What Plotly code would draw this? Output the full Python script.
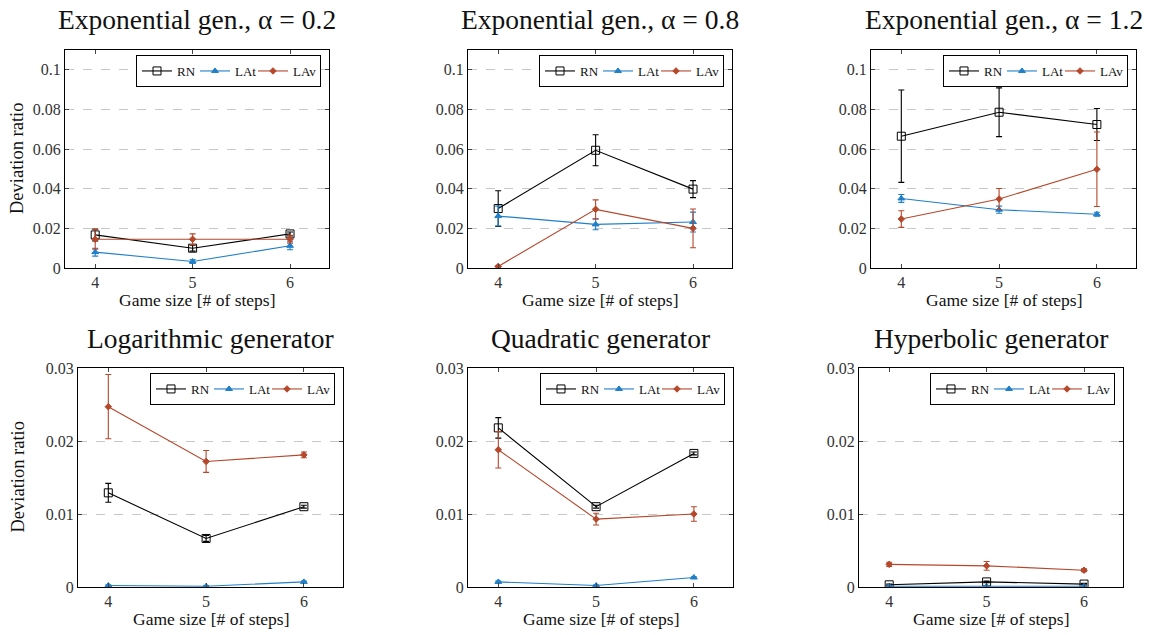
import plotly.graph_objects as go

# ---------------- data ----------------
game_sizes = [4, 5, 6]
series_names = ["RN", "LAt", "LAv"]

panel_titles = [
    "Exponential gen., α = 0.2",
    "Exponential gen., α = 0.8",
    "Exponential gen., α = 1.2",
    "Logarithmic generator",
    "Quadratic generator",
    "Hyperbolic generator",
]

# means
exp02_rn = [0.0167, 0.0100, 0.0172]
exp02_lat = [0.0080, 0.0033, 0.0112]
exp02_lav = [0.0145, 0.0145, 0.0145]
exp08_rn = [0.0300, 0.0594, 0.0398]
exp08_lat = [0.0262, 0.0220, 0.0232]
exp08_lav = [0.0008, 0.0296, 0.0200]
exp12_rn = [0.0665, 0.0786, 0.0724]
exp12_lat = [0.0351, 0.0294, 0.0271]
exp12_lav = [0.0247, 0.0348, 0.0498]
log_rn = [0.0129, 0.00665, 0.0110]
log_lat = [0.0002, 0.0001, 0.0007]
log_lav = [0.0247, 0.0172, 0.0181]
quad_rn = [0.0218, 0.0110, 0.0183]
quad_lat = [0.0007, 0.0002, 0.0013]
quad_lav = [0.0188, 0.0093, 0.0100]
hyp_rn = [0.0003, 0.0007, 0.0004]
hyp_lat = [0.0001, 0.0001, 0.0001]
hyp_lav = [0.0031, 0.0029, 0.0023]

# error bars (half-widths)
exp02_rn_err = [0.0030, 0.0015, 0.0010]
exp02_lat_err = [0.0020, 0.0010, 0.0020]
exp02_lav_err = [0.0050, 0.0027, 0.0020]
exp08_rn_err = [0.0090, 0.0078, 0.0043]
exp08_lat_err = [0.0050, 0.0027, 0.0050]
exp08_lav_err = [0.0003, 0.0048, 0.0098]
exp12_rn_err = [0.0233, 0.0123, 0.0081]
exp12_lat_err = [0.0020, 0.0018, 0.0010]
exp12_lav_err = [0.0042, 0.0053, 0.0188]
log_rn_err = [0.0013, 0.0004, 0.0002]
log_lat_err = [0.0001, 0.0001, 0.0001]
log_lav_err = [0.0044, 0.0015, 0.0004]
quad_rn_err = [0.0014, 0.0002, 0.0002]
quad_lat_err = [0.0001, 0.0001, 0.0001]
quad_lav_err = [0.0025, 0.0008, 0.0010]
hyp_rn_err = [0.0001, 0.0001, 0.0001]
hyp_lat_err = [0.00005, 0.00005, 0.00005]
hyp_lav_err = [0.0003, 0.0006, 0.0002]

top_yticks = [0, 0.02, 0.04, 0.06, 0.08, 0.1]
top_yticktext = ["0", "0.02", "0.04", "0.06", "0.08", "0.1"]
bot_yticks = [0, 0.01, 0.02, 0.03]
bot_yticktext = ["0", "0.01", "0.02", "0.03"]
x_title = "Game size [# of steps]"
y_title = "Deviation ratio"

panels = [
    ([exp02_rn, exp02_lat, exp02_lav], [exp02_rn_err, exp02_lat_err, exp02_lav_err]),
    ([exp08_rn, exp08_lat, exp08_lav], [exp08_rn_err, exp08_lat_err, exp08_lav_err]),
    ([exp12_rn, exp12_lat, exp12_lav], [exp12_rn_err, exp12_lat_err, exp12_lav_err]),
    ([log_rn, log_lat, log_lav], [log_rn_err, log_lat_err, log_lav_err]),
    ([quad_rn, quad_lat, quad_lav], [quad_rn_err, quad_lat_err, quad_lav_err]),
    ([hyp_rn, hyp_lat, hyp_lav], [hyp_rn_err, hyp_lat_err, hyp_lav_err]),
]

# ---------------- layout geometry (pixels) ----------------
W, H = 1149, 635
px_x = [(65, 329), (468, 732), (871, 1136), (78, 343), (468, 733), (859, 1123)]
px_y = [(50, 268)] * 3 + [(368, 587)] * 3

colors = ["#000000", "#1f7fc8", "#b5472b"]
symbols = ["square-open", "triangle-up", "diamond"]
msizes = [8, 6, 5]
legend_widths = [13, 13, 22]

SERIF = "Liberation Serif"

fig = go.Figure()
annotations = []

for i, (means, errs) in enumerate(panels):
    k = i + 1
    xa = "x" if k == 1 else f"x{k}"
    ya = "y" if k == 1 else f"y{k}"
    lg = "legend" if k == 1 else f"legend{k}"
    for s in range(3):
        fig.add_trace(go.Scatter(
            x=game_sizes, y=means[s], name=series_names[s],
            mode="lines+markers",
            xaxis=xa, yaxis=ya, legend=lg, legendwidth=legend_widths[s],
            line=dict(color=colors[s], width=1.1),
            marker=dict(symbol=symbols[s], size=msizes[s], color=colors[s],
                        line=dict(color=colors[s], width=1)),
            error_y=dict(type="data", array=errs[s], color=colors[s],
                         thickness=1.1, width=3),
        ))
    x0, x1 = px_x[i]
    y0, y1 = px_y[i]
    top = i < 3
    axis_common = dict(showline=True, linecolor="black", linewidth=1, mirror="ticks",
                       ticks="inside", ticklen=4, tickcolor="#444", zeroline=False,
                       automargin=False,
                       tickfont=dict(family=SERIF, size=16, color="#333"))
    fig.update_layout(**{
        ("xaxis" if k == 1 else f"xaxis{k}"): dict(
            domain=[x0 / W, x1 / W], anchor=ya,
            range=[3.69, 6.4], tickvals=game_sizes, showgrid=False, **axis_common),
        ("yaxis" if k == 1 else f"yaxis{k}"): dict(
            domain=[1 - y1 / H, 1 - y0 / H], anchor=xa,
            range=[0, 0.11] if top else [0, 0.03],
            tickvals=top_yticks if top else bot_yticks,
            ticktext=top_yticktext if top else bot_yticktext,
            showgrid=True, gridcolor="#c8c8c8", griddash="dash", gridwidth=1,
            **axis_common),
        lg: dict(orientation="h", xref="paper", yref="paper",
                 x=(x1 - 8) / W, y=1 - (y0 + 5) / H, xanchor="right", yanchor="top",
                 bordercolor="black", borderwidth=1, bgcolor="white",
                 font=dict(family=SERIF, size=13, color="#111"),
                 itemwidth=30, tracegroupgap=0),
    })
    cx = (x0 + x1) / 2 / W
    annotations.append(dict(text=panel_titles[i], x=cx, y=1 - (19 if top else 338) / H,
                            xref="paper", yref="paper", showarrow=False,
                            xanchor="center", yanchor="middle",
                            font=dict(family=SERIF, size=27.5, color="#111")))
    annotations.append(dict(text=x_title, x=cx, y=1 - (300 if top else 619) / H,
                            xref="paper", yref="paper", showarrow=False,
                            xanchor="center", yanchor="middle",
                            font=dict(family=SERIF, size=17.5, color="#111")))
    if i % 3 == 0:
        annotations.append(dict(text=y_title, x=17 / W, y=1 - ((y0 + y1) / 2) / H,
                                xref="paper", yref="paper", showarrow=False,
                                textangle=-90, xanchor="center", yanchor="middle",
                                font=dict(family=SERIF, size=18.5, color="#111")))

fig.update_layout(width=W, height=H, margin=dict(l=0, r=0, t=0, b=0, autoexpand=False),
                  paper_bgcolor="white", plot_bgcolor="white",
                  font=dict(family=SERIF),
                  showlegend=True, annotations=annotations)

fig.write_html("out.html", config={"displayModeBar": False},
               post_script="document.body.style.margin='0';document.body.style.overflow='hidden';")
